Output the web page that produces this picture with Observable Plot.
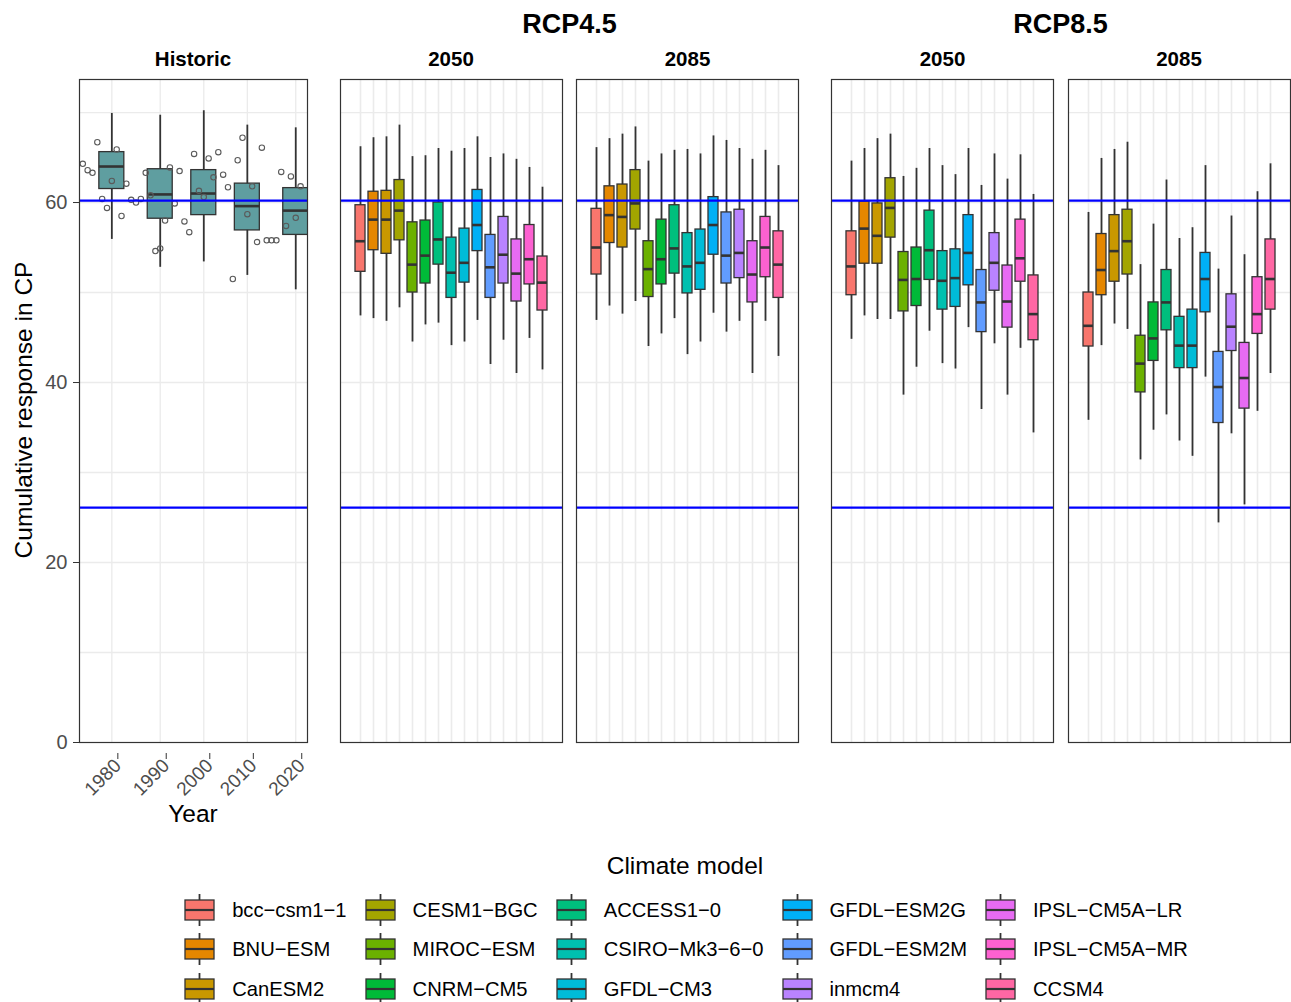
<!DOCTYPE html>
<html><head><meta charset="utf-8">
<script src="https://cdn.jsdelivr.net/npm/d3@7"></script>
<script src="https://cdn.jsdelivr.net/npm/@observablehq/plot@0.6"></script>
<style>
body{margin:0;background:#fff;font-family:"Liberation Sans",Arial,Helvetica,sans-serif;}
#fig{position:relative;width:1291px;height:1002px;overflow:hidden;background:#fff}
.t{position:absolute;transform:translate(-50%,-50%);white-space:nowrap;color:#000;line-height:1}
.legend{position:absolute;left:89px;width:1212px;top:890px;display:flex;justify-content:center}
.lgrid{display:grid;grid-template-rows:repeat(3,39.5px);grid-auto-flow:column;grid-auto-columns:max-content}
.item{display:flex;align-items:center;height:39.5px;margin-right:18px}
.item span{margin-left:17px;font-size:20.2px;color:#000;line-height:1}
</style></head><body><div id="fig"></div>
<script>
// ---------------- DATA ----------------
const models = ["bcc\u2212csm1\u22121","BNU\u2212ESM","CanESM2","CESM1\u2212BGC","MIROC\u2212ESM","CNRM\u2212CM5","ACCESS1\u22120","CSIRO\u2212Mk3\u22126\u22120","GFDL\u2212CM3","GFDL\u2212ESM2G","GFDL\u2212ESM2M","inmcm4","IPSL\u2212CM5A\u2212LR","IPSL\u2212CM5A\u2212MR","CCSM4"];
const modelColors = ["#F8766D","#E58700","#C99800","#A3A500","#6BB100","#00BA38","#00BF7D","#00C0AF","#00BCD8","#00B0F6","#619CFF","#B983FF","#E76BF3","#FD61D1","#FF67A4"];
const refLines = [60.2, 26.1];
const gridLines = [10, 20, 30, 40, 50, 60, 70];
const yTicks = [0, 20, 40, 60];

// Historic: decade boxes (position on year axis, label, stats)
const histBoxLabels = ["1980","1990","2000","2010","2020"];
const histBoxPos = [1981, 1991, 2000, 2009, 2019];
const histLo  = [55.9, 52.8, 53.4, 51.9, 50.3];
const histQ1  = [61.5, 58.2, 58.6, 56.9, 56.4];
const histMed = [64.0, 60.9, 61.0, 59.6, 59.1];
const histQ3  = [65.6, 63.7, 63.6, 62.1, 61.6];
const histHi  = [69.9, 69.7, 70.2, 68.6, 68.3];

// Historic: yearly observations
const histYears = [1975,1976,1977,1978,1979,1980,1981,1982,1983,1984,1985,1986,1987,1988,1989,1990,1991,1992,1993,1994,1995,1996,1997,1998,1999,2000,2001,2002,2003,2004,2005,2006,2007,2008,2009,2010,2011,2012,2013,2014,2015,2016,2017,2018,2019,2020];
const histValues = [64.3,63.6,63.3,66.7,60.4,59.4,62.4,65.9,58.5,62.1,60.3,60.0,60.4,63.3,60.8,54.6,54.9,58.0,63.9,59.9,63.5,57.9,56.7,65.4,61.3,60.6,64.9,62.8,65.6,63.1,61.7,51.5,64.7,67.2,58.7,61.8,55.6,66.1,55.8,55.8,55.8,63.4,57.4,62.9,58.3,61.8];

// Projections: per model [lower whisker, Q1, median, Q3, upper whisker]
const rcp45_2050 = [[47.4,52.3,55.7,59.7,66.2],[47.1,54.7,58.1,61.2,67.2],[46.8,54.3,58.1,61.3,67.3],[48.3,55.8,59.1,62.5,68.6],[44.5,50.0,53.1,57.8,65.1],[46.4,51.0,54.1,58.0,65.2],[46.6,53.1,55.9,60.0,66.0],[44.1,49.4,52.2,56.1,65.7],[44.5,51.1,53.3,57.1,66.0],[46.9,54.6,57.5,61.4,67.3],[42.0,49.4,52.8,56.4,65.0],[44.7,51.0,54.2,58.4,65.4],[41.0,49.0,52.1,55.9,64.8],[44.9,50.9,53.7,57.5,63.9],[41.4,48.0,51.1,54.0,61.7]];
const rcp45_2085 = [[46.9,52.0,55.0,59.3,66.1],[48.5,55.5,58.6,61.8,67.1],[47.6,55.0,58.4,62.0,67.6],[49.0,57.0,59.9,63.6,68.4],[44.0,49.5,52.6,55.7,64.6],[45.4,50.9,53.7,58.1,65.4],[47.1,52.1,54.9,59.7,65.8],[43.1,49.9,52.9,56.6,65.9],[44.5,50.3,53.3,57.0,65.4],[47.7,54.2,57.5,60.6,67.4],[45.6,51.0,54.1,58.9,66.9],[46.8,51.6,54.4,59.2,66.0],[41.0,48.9,52.0,55.7,64.8],[46.8,51.7,55.0,58.4,65.8],[42.9,49.4,53.1,56.8,64.1]];
const rcp85_2050 = [[44.8,49.7,52.9,56.8,64.6],[47.4,53.2,57.1,60.1,66.0],[47.0,53.2,56.3,59.9,67.1],[47.0,56.1,59.4,62.7,67.6],[38.6,47.9,51.4,54.5,62.9],[41.7,48.5,51.5,55.0,63.8],[45.7,51.4,54.7,59.1,66.0],[42.1,48.1,51.3,54.6,64.1],[41.5,48.4,51.6,54.8,63.1],[46.1,50.8,54.4,58.6,66.0],[37.0,45.6,48.9,52.5,61.9],[44.3,50.2,53.3,56.6,65.4],[38.6,46.1,49.0,53.0,62.6],[43.8,51.2,53.8,58.1,65.3],[34.4,44.7,47.6,51.9,60.9]];
const rcp85_2085 = [[35.8,44.0,46.3,50.0,58.9],[44.1,49.7,52.5,56.5,64.9],[46.5,51.2,54.6,58.6,65.9],[45.9,52.0,55.7,59.2,66.7],[31.4,38.9,42.1,45.2,53.1],[34.7,42.4,44.9,48.9,57.6],[36.4,45.8,48.9,52.5,62.5],[33.5,41.6,44.1,47.3,56.0],[31.8,41.6,44.1,48.1,57.2],[40.6,47.8,51.5,54.4,64.1],[24.4,35.5,39.5,43.4,52.6],[34.3,43.5,46.2,49.8,58.5],[26.4,37.1,40.5,44.4,54.2],[36.8,45.4,47.6,51.7,61.2],[41.0,48.1,51.5,55.9,64.3]];

// ---------------- LAYOUT ----------------
const FONT = "'Liberation Sans', Arial, Helvetica, sans-serif";
const fig = document.getElementById("fig");
const Y_DOMAIN = [0, 73.67];
const FRAME_TOP = 79, FRAME_BOTTOM = 742, SVG_H = 840;
const GRID = "#EBEBEB", INK = "#333333", BLUE = "#0000FF";

function place(el, left, top) {
  el.style.position = "absolute"; el.style.left = left + "px"; el.style.top = top + "px";
  fig.appendChild(el);
}
function label(str, x, y, size, bold, rotate) {
  const d = document.createElement("div");
  d.className = "t"; d.textContent = str;
  d.style.left = x + "px"; d.style.top = y + "px";
  d.style.fontSize = size + "px"; d.style.fontWeight = bold ? "bold" : "normal";
  if (rotate) d.style.transform = "translate(-50%,-50%) rotate(" + rotate + "deg)";
  fig.appendChild(d);
}

// Historic panel
const histBoxes = histBoxLabels.map((lab, i) => ({label: lab, x: histBoxPos[i], lo: histLo[i], q1: histQ1[i], med: histMed[i], q3: histQ3[i], hi: histHi[i]}));
const histPts = histYears.map((y, i) => ({year: y, value: histValues[i]}));
const labelOf = new Map(histBoxPos.map((p, i) => [p, histBoxLabels[i]]));
const HW = 2.58;
const hist = Plot.plot({
  width: 320, height: SVG_H,
  marginLeft: 79, marginRight: 13, marginTop: FRAME_TOP, marginBottom: SVG_H - FRAME_BOTTOM,
  x: {domain: [1974.32, 2021.43]},
  y: {domain: Y_DOMAIN},
  style: {fontFamily: FONT, background: "transparent", overflow: "visible"},
  marks: [
    Plot.ruleY(gridLines, {stroke: GRID, strokeWidth: 1.3}),
    Plot.ruleX(histBoxPos, {stroke: GRID, strokeWidth: 1.3}),
    Plot.ruleX(histBoxes, {x: "x", y1: "lo", y2: "hi", stroke: INK, strokeWidth: 1.8}),
    Plot.rect(histBoxes, {x1: d => d.x - HW, x2: d => d.x + HW, y1: "q1", y2: "q3", fill: "#5F9EA0", stroke: INK, strokeWidth: 1.3, clip: true}),
    Plot.ruleY(histBoxes, {y: "med", x1: d => d.x - HW, x2: d => d.x + HW, stroke: INK, strokeWidth: 2.6, clip: true}),
    Plot.dot(histPts, {x: "year", y: "value", r: 2.7, stroke: "#5A5A5A", strokeWidth: 1.1, fill: "none"}),
    Plot.ruleY(refLines, {stroke: BLUE, strokeWidth: 2.2}),
    Plot.frame({stroke: INK, strokeWidth: 1.2}),
    Plot.axisY({ticks: yTicks, tickSize: 6, tickPadding: 6, fontSize: 20, stroke: INK, fill: "#4D4D4D", label: null}),
    Plot.axisX({ticks: histBoxPos, tickFormat: d => labelOf.get(d), tickRotate: -45, tickSize: 6, tickPadding: 3, dx: 6, dy: 11, fontSize: 19, stroke: INK, fill: "#4D4D4D", label: null})
  ]
});
place(hist, 0, 0);

// Projection panels
function rcpPanel(rows) {
  const data = rows.map((r, i) => ({model: models[i], lo: r[0], q1: r[1], med: r[2], q3: r[3], hi: r[4]}));
  return Plot.plot({
    width: 225, height: SVG_H,
    marginLeft: 1, marginRight: 2, marginTop: FRAME_TOP, marginBottom: SVG_H - FRAME_BOTTOM,
    x: {type: "band", domain: models, paddingInner: 0.236, paddingOuter: 0.57, axis: null},
    y: {domain: Y_DOMAIN, axis: null},
    color: {domain: models, range: modelColors},
    style: {fontFamily: FONT, background: "transparent", overflow: "visible"},
    marks: [
      Plot.ruleY(gridLines, {stroke: GRID, strokeWidth: 1.3}),
      Plot.ruleX(models, {x: d => d, stroke: GRID, strokeWidth: 1.6}),
      Plot.ruleX(data, {x: "model", y1: "lo", y2: "hi", stroke: INK, strokeWidth: 1.8}),
      Plot.barY(data, {x: "model", y1: "q1", y2: "q3", fill: "model", stroke: INK, strokeWidth: 1.3}),
      Plot.tickY(data, {x: "model", y: "med", stroke: INK, strokeWidth: 2.6}),
      Plot.ruleY(refLines, {stroke: BLUE, strokeWidth: 2.2}),
      Plot.frame({stroke: INK, strokeWidth: 1.2})
    ]
  });
}
place(rcpPanel(rcp45_2050), 339, 0);
place(rcpPanel(rcp45_2085), 575, 0);
place(rcpPanel(rcp85_2050), 830, 0);
place(rcpPanel(rcp85_2085), 1067, 0);

// Titles and strips
label("RCP4.5", 569.5, 24, 27, true);
label("RCP8.5", 1060.5, 24, 27, true);
label("Historic", 193, 59, 20.5, true);
label("2050", 451, 59, 20.5, true);
label("2085", 687.5, 59, 20.5, true);
label("2050", 942.5, 59, 20.5, true);
label("2085", 1179, 59, 20.5, true);
label("Year", 193, 814, 24.5, false);
label("Cumulative response in CP", 24, 410, 24.5, false, -90);
label("Climate model", 685, 866, 24.5, false);

// Legend
const leg = document.createElement("div"); leg.className = "legend";
const grid = document.createElement("div"); grid.className = "lgrid";
models.forEach((m, i) => {
  const it = document.createElement("div"); it.className = "item";
  const svg = d3.create("svg").attr("width", 31).attr("height", 40);
  svg.append("line").attr("x1", 15.5).attr("x2", 15.5).attr("y1", 4).attr("y2", 36).attr("stroke", INK).attr("stroke-width", 1.8);
  svg.append("rect").attr("x", 1).attr("y", 10).attr("width", 29).attr("height", 20).attr("fill", modelColors[i]).attr("stroke", INK).attr("stroke-width", 1.3);
  svg.append("line").attr("x1", 1).attr("x2", 30).attr("y1", 20).attr("y2", 20).attr("stroke", INK).attr("stroke-width", 2.2);
  it.appendChild(svg.node());
  const sp = document.createElement("span"); sp.textContent = m; it.appendChild(sp);
  grid.appendChild(it);
});
leg.appendChild(grid); fig.appendChild(leg);
</script></body></html>
